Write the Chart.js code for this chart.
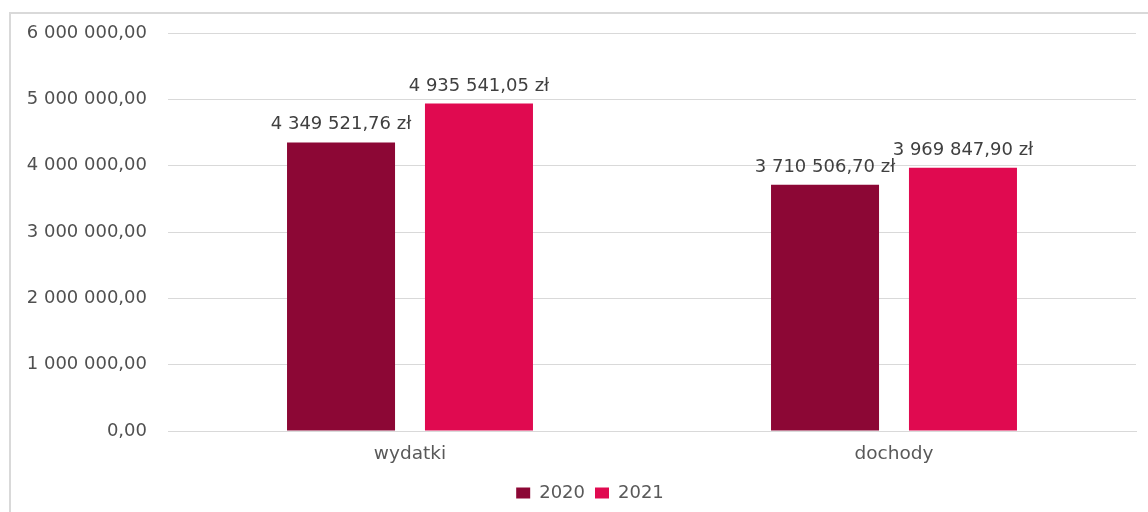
<!DOCTYPE html>
<html>
<head>
<meta charset="utf-8">
<script src="https://cdn.jsdelivr.net/npm/chart.js@4"></script>
<style>
  html, body { margin: 0; padding: 0; background: #ffffff; overflow: hidden; }
  #wrap { position: absolute; left: 0; top: 0; width: 1148px; height: 512px; }
  #frame { position: absolute; left: 9px; top: 12px; width: 2000px; height: 2000px;
           border-left: 2px solid #d9d9d9; border-top: 2px solid #d9d9d9; pointer-events: none; }
</style>
</head>
<body>
<div id="frame"></div>
<div id="wrap"><canvas id="c"></canvas></div>
<script>
const categories = ["wydatki", "dochody"];
const seriesNames = ["2020", "2021"];
const values2020 = [4349521.76, 3710506.70];
const values2021 = [4935541.05, 3969847.90];
const yTicks = [0, 1000000, 2000000, 3000000, 4000000, 5000000, 6000000];

const colors = ["#8c0735", "#e00a50"];
const FONT = "'DejaVu Sans', Verdana, sans-serif";

function fmt(v) {
  const s = Math.abs(v).toFixed(2);
  let [intPart, dec] = s.split(".");
  intPart = intPart.replace(/\B(?=(\d{3})+(?!\d))/g, " ");
  return (v < 0 ? "-" : "") + intPart + "," + dec;
}

const dataLabels = {
  id: "dataLabels",
  afterDatasetsDraw(chart) {
    const ctx = chart.ctx;
    ctx.save();
    ctx.font = "18px " + FONT;
    ctx.fillStyle = "#404040";
    ctx.textAlign = "center";
    ctx.textBaseline = "alphabetic";
    chart.data.datasets.forEach((ds, di) => {
      const meta = chart.getDatasetMeta(di);
      meta.data.forEach((bar, i) => {
        ctx.fillText(fmt(ds.data[i]) + " zł", bar.x, bar.y - 13);
      });
    });
    ctx.restore();
  }
};

const legendShift = {
  id: "legendShift",
  afterLayout(chart) {
    if (chart.legend) { chart.legend.left += 44; }
  }
};

new Chart(document.getElementById("c"), {
  type: "bar",
  data: {
    labels: categories,
    datasets: [
      { label: seriesNames[0], data: values2020, backgroundColor: colors[0],
        categoryPercentage: 0.57, barPercentage: 0.783 },
      { label: seriesNames[1], data: values2021, backgroundColor: colors[1],
        categoryPercentage: 0.57, barPercentage: 0.783 }
    ]
  },
  options: {
    responsive: true,
    maintainAspectRatio: false,
    animation: false,
    layout: { padding: { left: 0, right: 12, top: 33, bottom: 0 } },
    scales: {
      x: {
        grid: { display: false, drawTicks: false },
        border: { display: true, color: "#d9d9d9", width: 1 },
        ticks: { color: "#595959", font: { family: FONT, size: 18.5 }, padding: 12 },
        afterFit(s) { s.height = 43; }
      },
      y: {
        min: 0, max: 6000000,
        afterBuildTicks(s) { s.ticks = yTicks.map(v => ({ value: v })); },
        grid: { color: "#d9d9d9", drawTicks: false, lineWidth: 1 },
        border: { display: false },
        ticks: { color: "#505050", font: { family: FONT, size: 18 }, padding: 21,
                 callback: v => fmt(v) },
        afterFit(s) { s.width = 168; }
      }
    },
    plugins: {
      legend: {
        position: "bottom",
        labels: { color: "#595959", font: { family: FONT, size: 18 },
                  boxWidth: 14, boxHeight: 11, padding: 10 }
      },
      tooltip: { enabled: false }
    }
  },
  plugins: [dataLabels, legendShift]
});
</script>
</body>
</html>
